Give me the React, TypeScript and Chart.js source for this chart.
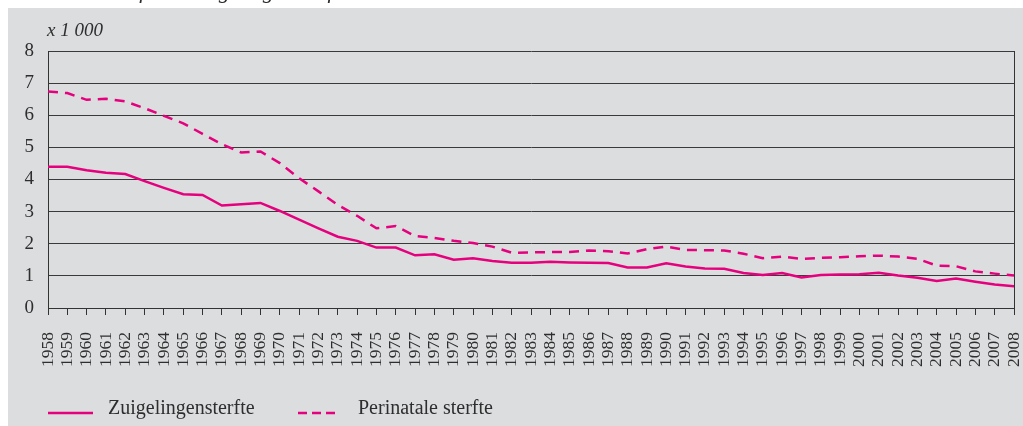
import React, { useEffect, useRef } from "react";
import { Chart, registerables } from "chart.js";

Chart.register(...registerables);

const years = [
  "1958", "1959", "1960", "1961", "1962", "1963", "1964", "1965", "1966", "1967",
  "1968", "1969", "1970", "1971", "1972", "1973", "1974", "1975", "1976", "1977",
  "1978", "1979", "1980", "1981", "1982", "1983", "1984", "1985", "1986", "1987",
  "1988", "1989", "1990", "1991", "1992", "1993", "1994", "1995", "1996", "1997",
  "1998", "1999", "2000", "2001", "2002", "2003", "2004", "2005", "2006", "2007",
  "2008",
];

const zuigelingensterfte = [
  4.40, 4.40, 4.29, 4.21, 4.17, 3.95, 3.74, 3.54, 3.52, 3.19,
  3.23, 3.27, 3.02, 2.75, 2.48, 2.22, 2.09, 1.88, 1.88, 1.64,
  1.67, 1.50, 1.55, 1.46, 1.41, 1.41, 1.44, 1.42, 1.41, 1.40,
  1.26, 1.26, 1.39, 1.29, 1.23, 1.22, 1.09, 1.03, 1.09, 0.95,
  1.03, 1.04, 1.05, 1.10, 1.01, 0.94, 0.84, 0.92, 0.82, 0.73,
  0.68,
];

const perinataleSterfte = [
  6.74, 6.69, 6.48, 6.51, 6.43, 6.22, 5.98, 5.75, 5.42, 5.10,
  4.84, 4.87, 4.51, 4.04, 3.63, 3.21, 2.87, 2.48, 2.55, 2.24,
  2.18, 2.09, 2.02, 1.91, 1.72, 1.73, 1.74, 1.74, 1.79, 1.77,
  1.70, 1.83, 1.91, 1.81, 1.80, 1.79, 1.69, 1.55, 1.60, 1.53,
  1.56, 1.58, 1.61, 1.63, 1.60, 1.53, 1.32, 1.30, 1.14, 1.07,
  1.01,
];

const seriesNames = ["Zuigelingensterfte", "Perinatale sterfte"];
const unitLabel = "x 1 000";
const titleText = "Perinatale sterfte en zuigelingensterfte";

const W = 1015;
const H = 418;
const MAGENTA = "#e5007e";
const TEXT = "#2e2e2e";
const SERIF = "'Liberation Serif', 'Times New Roman', serif";

const decorPlugin = {
  id: "decor",
  afterDraw(chart: any) {
    const { ctx, chartArea: a } = chart;
    ctx.save();
    // right border of plot box
    ctx.strokeStyle = "#333";
    ctx.lineWidth = 1;
    ctx.beginPath();
    ctx.moveTo(Math.round(a.right) + 0.5, a.top);
    ctx.lineTo(Math.round(a.right) + 0.5, a.bottom + 7);
    ctx.stroke();

    // unit label
    ctx.fillStyle = TEXT;
    ctx.font = `italic 19px ${SERIF}`;
    ctx.textAlign = "left";
    ctx.textBaseline = "alphabetic";
    ctx.fillText(unitLabel, a.left - 1, a.top - 15);

    // legend
    const ly = 405;
    ctx.strokeStyle = MAGENTA;
    ctx.lineWidth = 2.5;
    ctx.setLineDash([]);
    ctx.beginPath();
    ctx.moveTo(40, ly);
    ctx.lineTo(85, ly);
    ctx.stroke();
    ctx.setLineDash([9, 5]);
    ctx.beginPath();
    ctx.moveTo(290, ly);
    ctx.lineTo(327, ly);
    ctx.stroke();
    ctx.setLineDash([]);
    ctx.font = `20px ${SERIF}`;
    ctx.fillStyle = TEXT;
    ctx.fillText(seriesNames[0], 100, 406);
    ctx.fillText(seriesNames[1], 350, 406);
    ctx.restore();
  },
};

export default function App() {
  const ref = useRef<HTMLCanvasElement | null>(null);

  useEffect(() => {
    if (!ref.current) return;
    const chart = new Chart(ref.current, {
      type: "line",
      data: {
        labels: years,
        datasets: [
          {
            label: seriesNames[0],
            data: zuigelingensterfte,
            borderColor: MAGENTA,
            borderWidth: 2.5,
            pointRadius: 0,
            tension: 0,
            fill: false,
          },
          {
            label: seriesNames[1],
            data: perinataleSterfte,
            borderColor: MAGENTA,
            borderWidth: 2.5,
            borderDash: [10, 7],
            pointRadius: 0,
            tension: 0,
            fill: false,
          },
        ],
      },
      options: {
        animation: false,
        responsive: false,
        maintainAspectRatio: false,
        layout: { padding: { top: 43, right: 9, left: 0, bottom: 0 } },
        plugins: {
          legend: { display: false },
          tooltip: { enabled: false },
          title: { display: false },
        },
        scales: {
          x: {
            type: "category",
            offset: false,
            grid: {
              drawOnChartArea: false,
              drawTicks: true,
              tickLength: 7,
              color: "#333",
              lineWidth: 1,
            },
            border: { display: true, color: "#333", width: 1 },
            ticks: {
              autoSkip: false,
              maxRotation: 90,
              minRotation: 90,
              padding: 17,
              color: TEXT,
              font: { family: SERIF, size: 17.5 },
            },
            afterFit: (s: any) => {
              s.height = 118;
              s.paddingLeft = 0;
              s.paddingRight = 0;
            },
          },
          y: {
            min: 0,
            max: 8,
            ticks: {
              stepSize: 1,
              padding: 14,
              color: TEXT,
              font: { family: SERIF, size: 19 },
            },
            grid: { color: "#3a3a3a", drawTicks: false, lineWidth: 1 },
            border: { display: true, color: "#333", width: 1 },
            afterFit: (s: any) => {
              s.width = 40;
            },
          },
        },
      },
      plugins: [decorPlugin],
    });
    return () => chart.destroy();
  }, []);

  return (
    <div
      style={{
        position: "fixed",
        left: 8,
        top: 8,
        width: W,
        height: H,
        background: "#dcdddf",
      }}
    >
      <div
        style={{
          position: "absolute",
          top: -28,
          left: 0,
          fontFamily: SERIF,
          fontStyle: "italic",
          fontSize: 22,
          color: TEXT,
          whiteSpace: "nowrap",
          lineHeight: "22px",
        }}
      >
        {titleText}
      </div>
      <canvas ref={ref} width={W} height={H} style={{ display: "block", width: W, height: H }} />
    </div>
  );
}
